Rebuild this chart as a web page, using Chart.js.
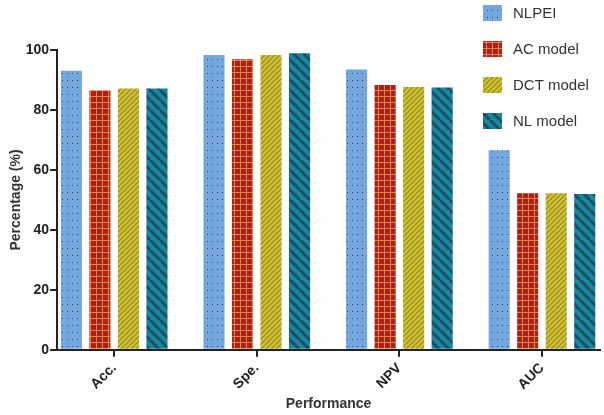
<!DOCTYPE html>
<html>
<head>
<meta charset="utf-8">
<script src="https://cdn.jsdelivr.net/npm/chart.js@4"></script>
<style>
  body { margin: 0; background: #fff; }
  #wrap { width: 604px; height: 415px; }
</style>
</head>
<body>
<div id="wrap"><canvas id="perf-chart" width="604" height="415"></canvas></div>
<script>
const categories = ['Acc.', 'Spe.', 'NPV', 'AUC'];
const seriesNames = ['NLPEI', 'AC model', 'DCT model', 'NL model'];
const nlpei = [93.1, 98.3, 93.5, 66.6];
const acModel = [86.6, 96.9, 88.3, 52.2];
const dctModel = [87.2, 98.3, 87.7, 52.2];
const nlModel = [87.2, 98.9, 87.5, 52.0];
const yTicks = [0, 20, 40, 60, 80, 100];

const FONT = 'Arial, "Liberation Sans", Helvetica, sans-serif';

// little tiles used to fill the bars
function tile(w, h, draw) {
  const c = document.createElement('canvas');
  c.width = w; c.height = h;
  draw(c.getContext('2d'));
  return c.getContext('2d').createPattern(c, 'repeat');
}

const dots = tile(5, 7, g => {
  g.fillStyle = '#75a6dd'; g.fillRect(0, 0, 5, 7);
  g.fillStyle = '#2d3e5c'; g.fillRect(2, 3, 1, 1);
});
const grid = tile(6, 6, g => {
  g.fillStyle = '#ad1f1e'; g.fillRect(0, 0, 6, 6);
  g.fillStyle = '#e3893a'; g.fillRect(0, 0, 6, 1); g.fillRect(0, 0, 1, 6);
});
const hatch = tile(5, 5, g => {
  g.fillStyle = '#cbc52e'; g.fillRect(0, 0, 5, 5);
  g.strokeStyle = '#9a7a2a'; g.lineWidth = 1.1;
  g.beginPath();
  for (let k = -5; k <= 10; k += 5) { g.moveTo(k, 5); g.lineTo(k + 5, 0); }
  g.stroke();
});
const stripes = tile(10, 10, g => {
  g.fillStyle = '#15879f'; g.fillRect(0, 0, 10, 10);
  g.strokeStyle = '#1c4d63'; g.lineWidth = 3;
  g.beginPath();
  for (let k = -10; k <= 20; k += 10) { g.moveTo(k, 0); g.lineTo(k + 10, 10); }
  g.stroke();
});

const fills = [dots, grid, hatch, stripes];
const values = [nlpei, acModel, dctModel, nlModel];

const sideLegend = {
  id: 'sideLegend',
  afterDraw(chart) {
    const ctx = chart.ctx;
    ctx.save();
    chart.data.datasets.forEach((ds, i) => {
      const cy = 13 + i * 36;
      ctx.fillStyle = ds.backgroundColor;
      ctx.fillRect(483, cy - 8, 19, 16);
      ctx.fillStyle = '#333';
      ctx.font = '15px ' + FONT;
      ctx.textBaseline = 'middle';
      ctx.fillText(ds.label, 513, cy + 1);
    });
    ctx.restore();
  }
};

const ctx = document.getElementById('perf-chart');
const chart = new Chart(ctx, {
  type: 'bar',
  data: {
    datasets: seriesNames.map((name, i) => ({
      label: name,
      data: values[i].map((v, j) => ({ x: j, y: v })),
      backgroundColor: fills[i],
      borderWidth: 0,
      categoryPercentage: 0.8,
      barPercentage: 0.74
    }))
  },
  options: {
    responsive: false,
    animation: false,
    layout: { padding: { top: 50, right: 4, left: 0, bottom: 2 } },
    plugins: { legend: { display: false }, tooltip: { enabled: false } },
    scales: {
      x: {
        type: 'linear',
        offset: false,
        min: -0.4,
        max: 3.407,
        afterBuildTicks: s => { s.ticks = categories.map((c, i) => ({ value: i })); },
        grid: { offset: false, drawOnChartArea: false, drawTicks: true, tickLength: 7, color: '#222', lineWidth: 2 },
        border: { display: true, color: '#222', width: 2 },
        ticks: {
          autoSkip: false,
          minRotation: 45, maxRotation: 45,
          color: '#222',
          font: { family: FONT, size: 14, weight: 'bold' },
          callback: v => categories[v]
        },
        title: {
          display: true, text: 'Performance', color: '#333',
          font: { family: FONT, size: 14, weight: 'bold' },
          padding: { top: 0, bottom: 0 }
        }
      },
      y: {
        min: 0, max: 100,
        afterBuildTicks: s => { s.ticks = yTicks.map(v => ({ value: v })); },
        grid: { drawOnChartArea: false, drawTicks: true, tickLength: 7, color: '#222', lineWidth: 2 },
        border: { display: true, color: '#222', width: 2 },
        ticks: { color: '#222', padding: 1, font: { family: FONT, size: 14, weight: 'bold' } },
        title: {
          display: true, text: 'Percentage (%)', color: '#333',
          font: { family: FONT, size: 14, weight: 'bold' },
          padding: { top: 8, bottom: 0 }
        }
      }
    }
  },
  plugins: [sideLegend]
});
</script>
</body>
</html>
